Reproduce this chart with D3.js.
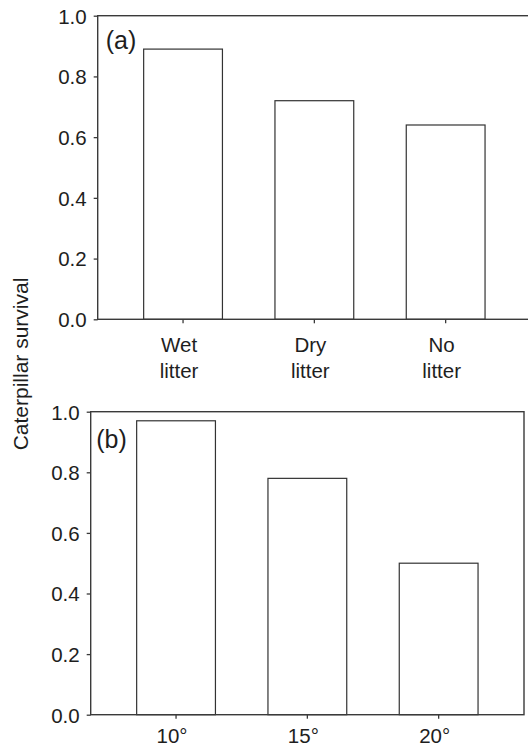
<!DOCTYPE html>
<html lang="en">
  <head>
    <meta charset="utf-8">
    <title>Caterpillar survival</title>
    <script src="https://d3js.org/d3.v7.min.js"></script>
    <style>
      body { margin: 0; background: #fff; }
      svg text { font-family: "Liberation Sans", Arial, Helvetica, sans-serif; fill: #1e1e1e; }
    </style>
  </head>
  <body>
    <div id="chart"></div>
    <script>
      // panel (a): litter treatment
      var litterLabels = ["Wet litter", "Dry litter", "No litter"];
      var litterSurvival = [0.89, 0.72, 0.64];
      // panel (b): temperature
      var tempLabels = ["10°", "15°", "20°"];
      var tempSurvival = [0.97, 0.78, 0.50];
      var yTicks = [0, 0.2, 0.4, 0.6, 0.8, 1.0];

      var W = 528, H = 748;
      var svg = d3.select("#chart").append("svg")
          .attr("width", W).attr("height", H);

      function drawPanel(p) {
        var x = d3.scaleBand()
            .domain(p.labels)
            .range([p.left, p.right])
            .paddingInner(0.4)
            .paddingOuter(0.35);
        var y = d3.scaleLinear().domain([0, 1]).range([p.bottom, p.top]);

        var g = svg.append("g");

        // bars
        g.selectAll("rect.bar")
          .data(p.values)
          .enter().append("rect")
            .attr("class", "bar")
            .attr("x", function (d, i) { return x(p.labels[i]); })
            .attr("y", function (d) { return y(d); })
            .attr("width", x.bandwidth())
            .attr("height", function (d) { return y(0) - y(d); })
            .attr("fill", "#fff")
            .attr("stroke", "#333")
            .attr("stroke-width", 1.2);

        // frame
        g.append("rect")
            .attr("x", p.left).attr("y", p.top)
            .attr("width", p.right - p.left).attr("height", p.bottom - p.top)
            .attr("fill", "none")
            .attr("stroke", "#3a3a3a")
            .attr("stroke-width", 1.4);

        var ya = g.append("g")
            .attr("transform", "translate(" + p.left + ",0)")
            .call(d3.axisLeft(y).tickValues(yTicks).tickSize(4).tickPadding(7)
              .tickFormat(d3.format(".1f")));
        ya.select(".domain").remove();
        ya.selectAll("line").attr("stroke", "#3a3a3a").attr("stroke-width", 1.3);
        ya.selectAll("text").style("font-size", "20.5px").attr("dy", "0.36em");

        var xa = g.append("g")
            .attr("transform", "translate(0," + p.bottom + ")")
            .call(d3.axisBottom(x).tickSize(4).tickFormat(""));
        xa.select(".domain").remove();
        xa.selectAll("line").attr("stroke", "#3a3a3a").attr("stroke-width", 1.3);

        // category labels, split into lines (sit a little left of the tick)
        p.labels.forEach(function (lab) {
          var t = g.append("text")
              .attr("text-anchor", "middle")
              .style("font-size", "20.5px");
          lab.split(" ").forEach(function (w, k) {
            t.append("tspan")
              .attr("x", x(lab) + x.bandwidth() / 2 - 4)
              .attr("y", p.bottom + p.labelOffset + k * 26.6)
              .text(w);
          });
        });

        g.append("text")
            .attr("x", p.left + p.tagDx)
            .attr("y", p.top + p.tagDy)
            .style("font-size", "25px")
            .text(p.tag);
      }

      drawPanel({
        labels: litterLabels, values: litterSurvival, tag: "(a)",
        left: 97.7, right: 531, top: 15.7, bottom: 319.3,
        labelOffset: 32.4, tagDx: 8, tagDy: 33.5
      });
      drawPanel({
        labels: tempLabels, values: tempSurvival, tag: "(b)",
        left: 90.7, right: 524, top: 411.7, bottom: 714.7,
        labelOffset: 28.6, tagDx: 5.5, tagDy: 36.5
      });

      svg.append("text")
          .attr("transform", "translate(27.5,364) rotate(-90)")
          .attr("text-anchor", "middle")
          .style("font-size", "21px")
          .text("Caterpillar survival");
    </script>
  </body>
</html>
